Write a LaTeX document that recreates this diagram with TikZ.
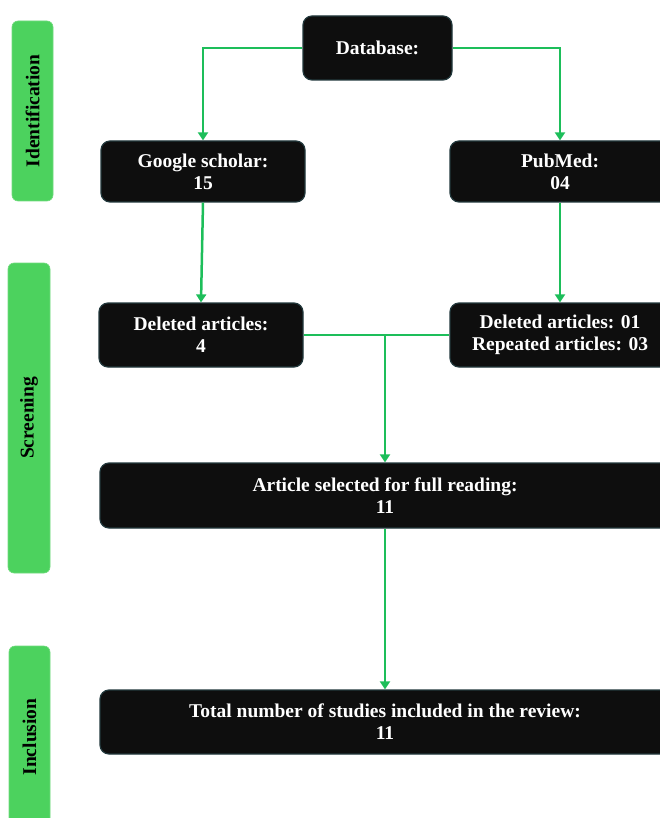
\documentclass[tikz,border=0pt]{standalone}
\usepackage{fontspec}
\setmainfont{Liberation Serif}
\usetikzlibrary{arrows.meta}
\definecolor{boxfill}{HTML}{0E0E0E}
\definecolor{boxline}{HTML}{22383C}
\definecolor{conn}{HTML}{1DBE5A}
\definecolor{phase}{HTML}{4CD25E}
\tikzset{
  x=1pt, y=-1pt,
  darkbox/.style={draw=boxline, line width=1.2pt, fill=boxfill, rounded corners=9pt,
    text=white, font=\fontsize{19.5}{22}\selectfont\bfseries, align=center, inner sep=0pt},
  phasebar/.style={fill=phase, draw=phase!80!white, line width=0.6pt, rounded corners=6pt},
  phaselabel/.style={rotate=90, font=\fontsize{19.5}{22}\selectfont\bfseries, text=black},
  conline/.style={draw=conn, line width=2.5pt},
  conarrow/.style={conline, -{Triangle[width=10pt,length=8pt]}}
}
\begin{document}
\begin{tikzpicture}
\useasboundingbox (0,0) rectangle (660,818);
% phase bars
\draw[phasebar] (12,21) rectangle (53,201);
\node[phaselabel] (lid) at (32.5,111) {Identification};
\draw[phasebar] (8,263) rectangle (50,573);
\node[phaselabel] (lsc) at (29,418) {Screening};
\draw[phasebar] (9,646) rectangle (50,840);
\node[phaselabel] (lin) at (29.5,737) {Inclusion};
% boxes
\node[darkbox, minimum width=149pt, minimum height=64pt] (db) at (377.5,48) {Database:};
\node[darkbox, minimum width=204pt, minimum height=61pt] (gs) at (203,171.5) {Google scholar:\\15};
\node[darkbox, minimum width=220pt, minimum height=61pt] (pm) at (560,171.5) {PubMed:\\04};
\node[darkbox, minimum width=204pt, minimum height=64pt] (d1) at (201,335) {Deleted articles:\\4};
\node[darkbox, minimum width=220pt, minimum height=64pt] (d2) at (560,335) {Deleted articles: 01\\Repeated articles: 03};
\node[darkbox, minimum width=570pt, minimum height=65pt] (art) at (385,495.5) {Article selected for full reading:\\11};
\node[darkbox, minimum width=570pt, minimum height=64pt] (tot) at (385,722) {Total number of studies included in the review:\\11};
% connectors
\draw[conarrow] (db.west) -| (gs.north);
\draw[conarrow] (db.east) -| (pm.north);
\draw[conarrow] (gs.south) -- (d1.north);
\draw[conarrow] (pm.south) -- (d2.north);
\draw[conline] (d1.east) -- (d2.west);
\coordinate (j) at (art.north |- d1.east);
\draw[conarrow] (j) -- (art.north);
\draw[conarrow] (art.south) -- (tot.north);
\end{tikzpicture}
\end{document}
